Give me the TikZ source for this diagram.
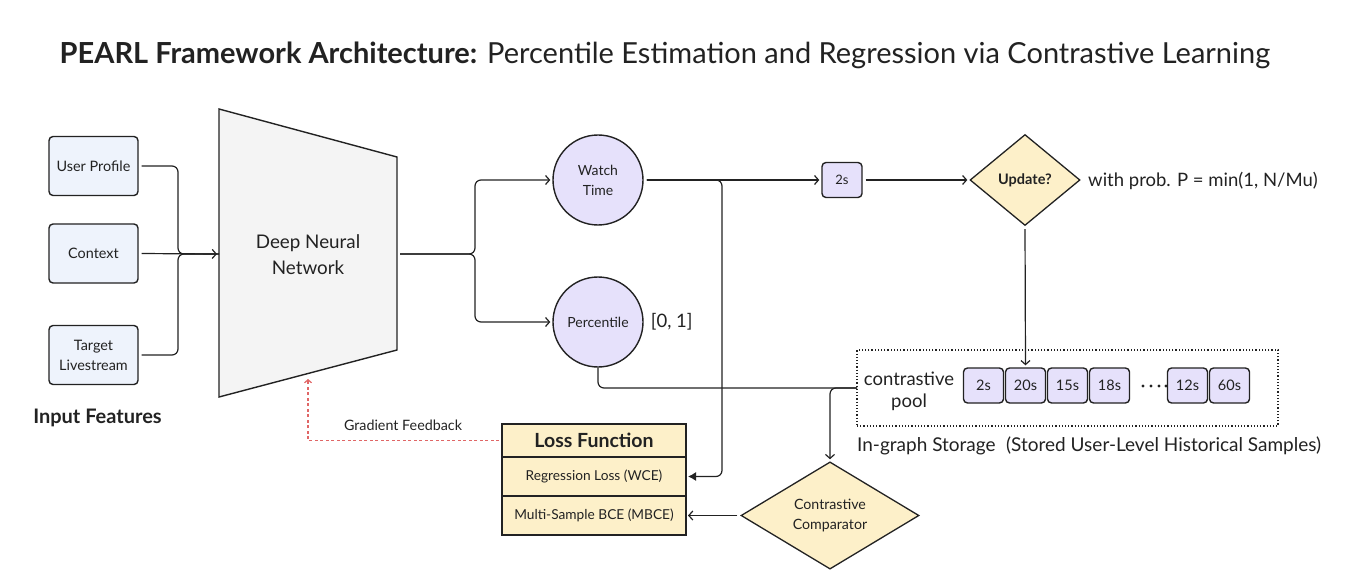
\documentclass[tikz,border=0pt]{standalone}
\usepackage{fontspec}
\setmainfont{Lato}
\usetikzlibrary{positioning,arrows.meta,calc,shapes.geometric}
\definecolor{inblue}{HTML}{EEF3FC}
\definecolor{dnngray}{HTML}{F4F4F4}
\definecolor{lav}{HTML}{E6E1FB}
\definecolor{cream}{HTML}{FDF0C9}
\definecolor{ink}{HTML}{222222}
\definecolor{fbred}{HTML}{E06666}
\newcommand{\fsz}[2]{\fontsize{#1}{#2}\selectfont}
\tikzset{
  wire/.style={draw=ink, line width=1.2pt, rounded corners=6pt, shorten <=3pt},
  arr/.style={wire, -{Straight Barb[length=4pt,width=9pt]}, shorten >=2pt},
  regarr/.style={wire, -{Latex[length=8pt,width=9pt]}, shorten >=2pt},
  inbox/.style={draw=ink, fill=inblue, line width=1.4pt, rounded corners=4pt, minimum width=89pt, minimum height=59pt, align=center, font=\fsz{14.4}{20}},
  outcirc/.style={circle, draw=ink, fill=lav, line width=1.4pt, minimum size=90pt, inner sep=0pt, align=center, font=\fsz{14}{20}},
  cell/.style={draw=ink, fill=lav, line width=1.4pt, rounded corners=4pt, minimum width=40pt, minimum height=35pt, inner sep=0pt, font=\fsz{14.5}{16}},
  gate/.style={diamond, draw=ink, fill=cream, line width=1.3pt, inner sep=0pt, align=center, font=\fsz{14.2}{20}},
  lossrow/.style={draw=ink, fill=cream, line width=2.4pt, minimum width=184pt, inner sep=0pt, outer sep=0pt, font=\fsz{13.7}{16}},
  fb/.style={draw=fbred, line width=1.2pt, dash pattern=on 3pt off 2.5pt, shorten <=3pt, shorten >=2pt, -{Straight Barb[length=3pt,width=7pt]}},
  note/.style={inner sep=0pt, text=ink, font=\fsz{18.5}{22}, align=center},
}

\begin{document}
\begin{tikzpicture}[x=1pt, y=-1pt, text=ink]
  \useasboundingbox (0,0) rectangle (1360,588);
  % title
  \node[note, font=\fsz{29}{32}] (title) at (665,55) {\textbf{PEARL Framework Architecture:} Percentile Estimation and Regression via Contrastive Learning};

  % input features
  \node[inbox] (up) at (93.5,166) {User Profile};
  \node[inbox] (ctx) at (93.5,253.5) {Context};
  \node[inbox] (tgt) at (93.5,355) {Target\\Livestream};
  \node[note, font=\fsz{20}{22}\bfseries] (inlab) at (97.5,418) {Input Features};

  % network body
  \coordinate (tlt) at (219,109);
  \coordinate (tlb) at (219,397);
  \coordinate (trt) at (397,157);
  \coordinate (trb) at (397,350);
  \draw[fill=dnngray, draw=ink, line width=1.4pt] (tlt) -- (trt) -- (trb) -- (tlb) -- cycle;
  \node[note, font=\fsz{18.8}{26}] (dnn) at (308,255) {Deep Neural\\Network};
  \coordinate (dnnin) at (219,254);
  \coordinate (dnnout) at (397,254);
  \coordinate (jin) at (178,254);
  \coordinate (jout) at (475,254);
  \coordinate (gfb) at (308,377);

  % heads
  \node[outcirc] (wt) at (598,180) {Watch\\Time};
  \node[outcirc] (pc) at (598,322) {Percentile};
  \node[note, right=7pt of pc] (rng) {[0, 1]};

  % sampling
  \node[cell, font=\fsz{13}{14}] (s2) at (842,180) {2s};
  \node[gate, font=\fsz{14.5}{16}\bfseries, minimum width=110pt, minimum height=91pt] (upd) at (1025,180) {Update?};
  \node[note, anchor=west] (prob) at (1088,181) {with prob. P = min(1, N/Mu)};

  % contrastive pool
  \node[draw=ink, line width=1.2pt, dash pattern=on 1.2pt off 2pt, minimum width=421pt, minimum height=76pt, outer sep=0pt] (pool) at (1067.5,388) {};
  \node[note] (plab) at (909,391) {contrastive\\pool};
  \foreach \t/\x [count=\i] in {2s/983.5, 20s/1025.5, 15s/1067.5, 18s/1109.5, 12s/1187.5, 60s/1229.5}
    \node[cell] (c\i) at (\x,385.5) {\t};
  \foreach \x in {1143,1151,1159,1166}
    \fill[ink] (\x,386) circle (1.7pt);
  \node[note, anchor=west, font=\fsz{19}{22}] (store) at (857,446) {In-graph Storage\hspace{0.55em}(Stored User-Level Historical Samples)};

  % loss
  \node[lossrow, minimum height=33pt, font=\fsz{19.5}{20}\bfseries] (lfh) at (594,440.5) {Loss Function};
  \node[lossrow, minimum height=39pt, below=0pt of lfh] (lfr) {Regression Loss (WCE)};
  \node[lossrow, minimum height=39pt, below=0pt of lfr] (lfm) {Multi-Sample BCE (MBCE)};
  \node[gate, minimum width=178pt, minimum height=84pt] (cc) at (830,515.5) {Contrastive\\Comparator};
  \node[note, font=\fsz{14.3}{16}] (gflab) at (403,425) {Gradient Feedback};

  % wires
  \draw[wire] (up.east) -| (jin) -- (dnnin);
  \draw[wire] (tgt.east) -| (jin) -- (dnnin);
  \draw[arr] (ctx.east) -- (dnnin);
  \draw[arr] (dnnout) -- (jout) |- (wt.west);
  \draw[arr] (dnnout) -- (jout) |- (pc.west);
  \draw[arr] (wt.east) -- (s2.west);
  \draw[regarr] (wt.east) -| (722,300) |- (lfr.east);
  \draw[arr] (s2.east) -- (upd.west);
  \draw[arr] (upd.south) -- (c2.north);
  \draw[wire, shorten <=0pt] (pc.south) |- (pool.west);
  \draw[arr, shorten <=0pt] (pool.west) -| (cc.north);
  \draw[arr] (cc.west) -- (lfm.east);
  \draw[fb] (lfh.west) -| (gfb);
\end{tikzpicture}
\end{document}
